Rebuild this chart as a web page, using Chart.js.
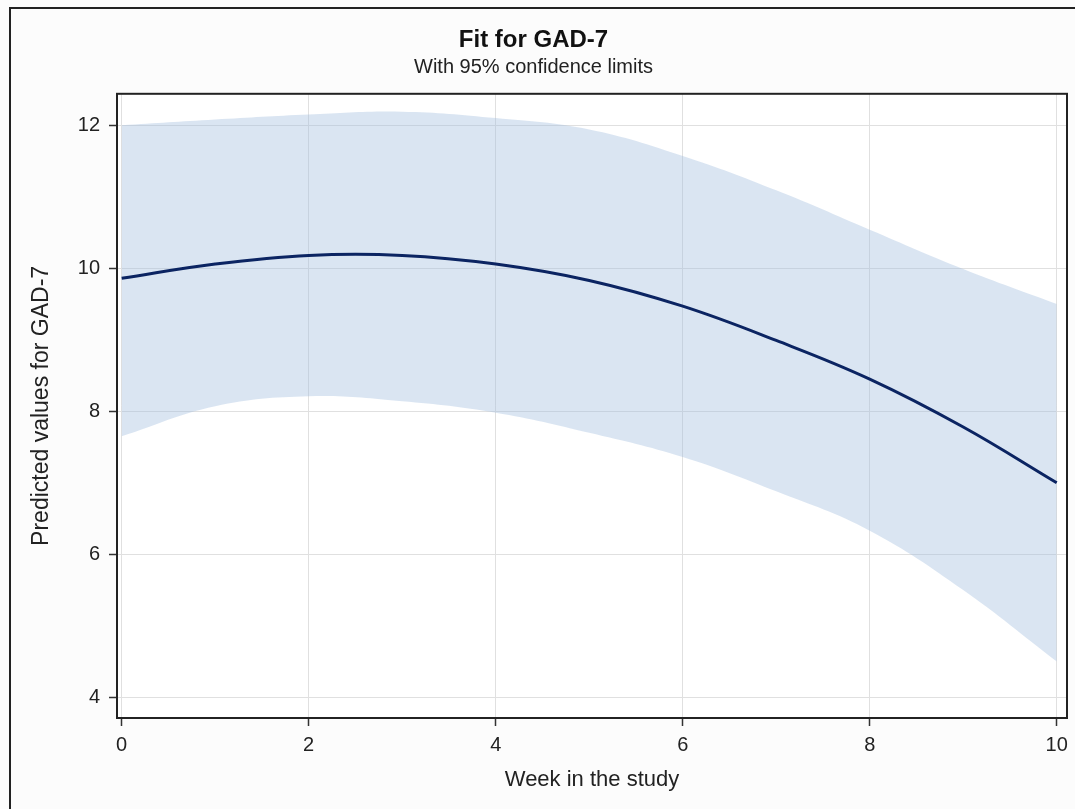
<!DOCTYPE html>
<html>
<head>
<meta charset="utf-8">
<title>Fit for GAD-7</title>
<script src="https://cdn.jsdelivr.net/npm/chart.js@4/dist/chart.umd.min.js"></script>
<style>
  body { margin: 0; background: #fcfcfc; }
  #chart { display: block; }
</style>
</head>
<body>
<canvas id="chart" width="1075" height="809"></canvas>
<script>
// values
const weeks = [0, 1, 2, 3, 4, 5, 6, 7, 8, 9, 10];
const fitValues = [9.86, 10.06, 10.18, 10.18, 10.06, 9.83, 9.47, 8.99, 8.45, 7.78, 7.0];
const upperValues = [12.0, 12.08, 12.15, 12.19, 12.1, 11.94, 11.57, 11.09, 10.54, 9.99, 9.5];
const lowerValues = [7.65, 8.07, 8.21, 8.14, 7.98, 7.7, 7.36, 6.88, 6.33, 5.5, 4.5];

const xTicks = [0, 2, 4, 6, 8, 10];
const yTicks = [4, 6, 8, 10, 12];

const toPoints = (vals) => weeks.map((w, i) => ({ x: w, y: vals[i] }));

const font = "'Liberation Sans', Arial, sans-serif";
const ink = "#222";

// frame + backgrounds
const framePlugin = {
  id: "frame",
  beforeDraw(chart) {
    const { ctx, chartArea: a } = chart;
    ctx.save();
    ctx.fillStyle = "#fcfcfc";
    ctx.fillRect(0, 0, chart.width, chart.height);
    ctx.fillStyle = "#ffffff";
    ctx.fillRect(a.left, a.top, a.right - a.left, a.bottom - a.top);
    ctx.restore();
  },
  afterDraw(chart) {
    const { ctx, chartArea: a } = chart;
    ctx.save();
    ctx.strokeStyle = "#222";
    ctx.lineWidth = 2;
    ctx.strokeRect(a.left, a.top, a.right - a.left, a.bottom - a.top);
    // outer figure border (left and top edges visible)
    ctx.beginPath();
    ctx.moveTo(10, chart.height);
    ctx.lineTo(10, 8);
    ctx.lineTo(chart.width, 8);
    ctx.stroke();
    ctx.restore();
  },
};

new Chart(document.getElementById("chart"), {
  type: "line",
  data: {
    datasets: [
      {
        label: "Upper",
        data: toPoints(upperValues),
        borderWidth: 0,
        pointRadius: 0,
        fill: "+1",
        backgroundColor: "rgba(163, 190, 223, 0.4)",
        tension: 0.4,
        order: 2,
      },
      {
        label: "Lower",
        data: toPoints(lowerValues),
        borderWidth: 0,
        pointRadius: 0,
        fill: false,
        tension: 0.4,
        order: 1,
      },
      {
        label: "Predicted",
        data: toPoints(fitValues),
        borderColor: "#0b2462",
        borderWidth: 3,
        pointRadius: 0,
        fill: false,
        tension: 0.4,
        order: 0,
      },
    ],
  },
  options: {
    responsive: false,
    animation: false,
    layout: { padding: { left: 0, right: 8, top: 0, bottom: 0 } },
    plugins: {
      legend: { display: false },
      tooltip: { enabled: false },
      title: {
        display: true,
        text: "Fit for GAD-7",
        color: "#111",
        font: { family: font, size: 24, weight: "bold", lineHeight: 1.2 },
        padding: { top: 26, bottom: 0 },
      },
      subtitle: {
        display: true,
        text: "With 95% confidence limits",
        color: ink,
        font: { family: font, size: 20, lineHeight: 1.2 },
        padding: { top: 1, bottom: 14 },
      },
    },
    scales: {
      x: {
        type: "linear",
        min: -0.05,
        max: 10.11,
        afterBuildTicks: (s) => { s.ticks = xTicks.map((v) => ({ value: v })); },
        afterFit: (s) => { s.height = 91; },
        ticks: { color: ink, font: { family: font, size: 20 }, padding: 7 },
        grid: { color: "#e0e0e0", tickColor: "#333", tickLength: 8, tickWidth: 1.5 },
        border: { display: false },
        title: {
          display: true,
          text: "Week in the study",
          color: ink,
          font: { family: font, size: 22, lineHeight: 1.2 },
          padding: { top: 4, bottom: 16 },
        },
      },
      y: {
        min: 3.71,
        max: 12.44,
        afterBuildTicks: (s) => { s.ticks = yTicks.map((v) => ({ value: v })); },
        afterFit: (s) => { s.width = 117; },
        ticks: { color: ink, font: { family: font, size: 20 }, padding: 9 },
        grid: { color: "#e0e0e0", tickColor: "#333", tickLength: 8, tickWidth: 1.5 },
        border: { display: false },
        title: {
          display: true,
          text: "Predicted values for GAD-7",
          color: ink,
          font: { family: font, size: 23, lineHeight: 1.2 },
          padding: { top: 28, bottom: 0 },
        },
      },
    },
  },
  plugins: [framePlugin],
});
</script>
</body>
</html>
